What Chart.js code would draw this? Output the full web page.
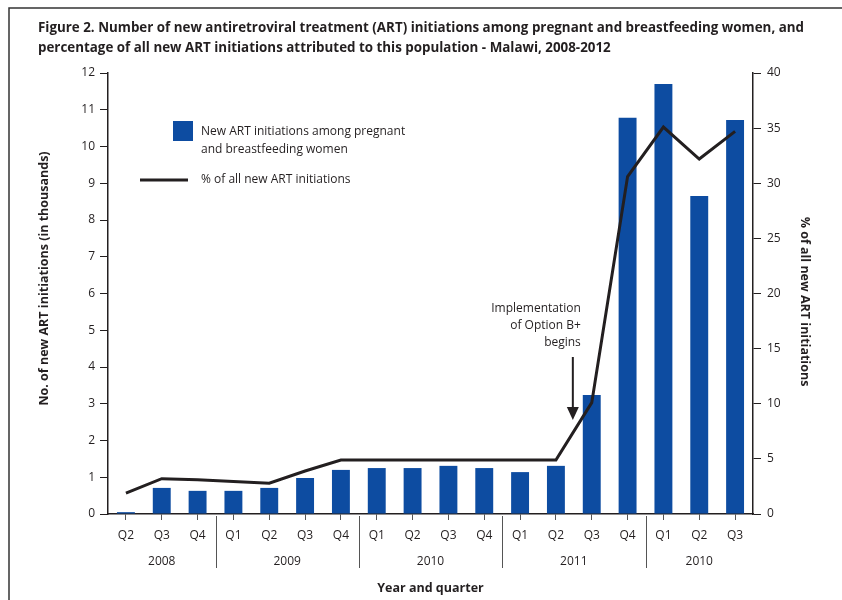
<!DOCTYPE html>
<html>
<head>
<meta charset="utf-8">
<script src="https://cdn.jsdelivr.net/npm/chart.js@4/dist/chart.umd.min.js"></script>
<style>
  html, body { margin: 0; padding: 0; background: #fff; }
  #wrap { width: 842px; height: 600px; }
</style>
</head>
<body>
<div id="wrap"><canvas id="chart" width="842" height="600"></canvas></div>
<script>
'use strict';

// quarters on the x axis, grouped by year underneath
const quarters = ['Q2', 'Q3', 'Q4', 'Q1', 'Q2', 'Q3', 'Q4', 'Q1', 'Q2', 'Q3', 'Q4',
                  'Q1', 'Q2', 'Q3', 'Q4', 'Q1', 'Q2', 'Q3'];
const years = ['2008', '2009', '2010', '2011', '2010'];
const yearSpans = [3, 4, 4, 4, 3];

// new ART initiations among pregnant and breastfeeding women (thousands)
const artCounts = [0.05, 0.71, 0.63, 0.63, 0.71, 0.98, 1.20, 1.25, 1.25, 1.31, 1.25,
                   1.14, 1.31, 3.24, 10.78, 11.70, 8.65, 10.72];
// % of all new ART initiations
const artPct = [1.9, 3.2, 3.1, 2.95, 2.8, 3.9, 4.9, 4.9, 4.9, 4.9, 4.9,
                4.9, 4.9, 10.1, 30.6, 35.1, 32.2, 34.7];

const leftTicks = { min: 0, max: 12, step: 1 };
const rightTicks = { min: 0, max: 40, step: 5 };

const titleLines = [
    'Figure 2. Number of new antiretroviral treatment (ART) initiations among pregnant and breastfeeding women, and',
    'percentage of all new ART initiations attributed to this population - Malawi, 2008-2012'
];

const ink = '#231f20';
const blue = '#0d4ca1';
const bodyFont = '"Open Sans", "Liberation Sans", sans-serif';

// extra drawing: frame, title, legend, annotation, year groups, axis titles
const decorations = {
    id: 'decorations',
    afterDraw(chart) {
        const ctx = chart.ctx;
        const x = chart.scales.x;
        const area = chart.chartArea;
        ctx.save();

        // frame
        ctx.strokeStyle = '#333';
        ctx.lineWidth = 1.5;
        ctx.beginPath();
        ctx.moveTo(9, 600);
        ctx.lineTo(9, 8);
        ctx.lineTo(842, 8);
        ctx.stroke();

        // title, squeezed horizontally to look condensed
        ctx.fillStyle = ink;
        ctx.textBaseline = 'middle';
        ctx.textAlign = 'left';
        ctx.font = 'bold 15px ' + bodyFont;
        const squeeze = 766 / ctx.measureText(titleLines[0]).width;
        ctx.save();
        ctx.translate(38, 0);
        ctx.scale(squeeze, 1);
        ctx.fillText(titleLines[0], 0, 28);
        ctx.fillText(titleLines[1], 0, 48);
        ctx.restore();

        // legend
        ctx.fillStyle = blue;
        ctx.fillRect(173, 121, 20, 20);
        ctx.strokeStyle = ink;
        ctx.lineWidth = 3;
        ctx.beginPath();
        ctx.moveTo(140, 180);
        ctx.lineTo(188, 180);
        ctx.stroke();
        ctx.fillStyle = ink;
        ctx.font = '12px ' + bodyFont;
        ctx.fillText('New ART initiations among pregnant', 201, 132);
        ctx.fillText('and breastfeeding women', 201, 150);
        ctx.fillText('% of all new ART initiations', 201, 180);

        // annotation with arrow, between 2011 Q2 and Q3
        const ax = (x.getPixelForValue(12) + x.getPixelForValue(13)) / 2 - 1;
        ctx.textAlign = 'right';
        ctx.fillText('Implementation', ax + 8, 309);
        ctx.fillText('of Option B+', ax + 8, 326);
        ctx.fillText('begins', ax + 8, 343);
        ctx.lineWidth = 2;
        ctx.beginPath();
        ctx.moveTo(ax, 357);
        ctx.lineTo(ax, 410);
        ctx.stroke();
        ctx.beginPath();
        ctx.moveTo(ax - 6, 407);
        ctx.lineTo(ax + 6, 407);
        ctx.lineTo(ax, 420);
        ctx.closePath();
        ctx.fill();

        // year groups
        const step = x.getPixelForValue(1) - x.getPixelForValue(0);
        ctx.strokeStyle = '#555';
        ctx.lineWidth = 1;
        ctx.textAlign = 'center';
        ctx.font = '12px ' + bodyFont;
        let start = 0;
        years.forEach((yr, i) => {
            const end = start + yearSpans[i];
            const left = x.getPixelForValue(start) - step / 2;
            const right = x.getPixelForValue(end - 1) + step / 2;
            ctx.fillText(yr, (left + right) / 2, 562);
            if (i < years.length - 1) {
                ctx.beginPath();
                ctx.moveTo(Math.round(right) + 0.5, area.bottom + 2);
                ctx.lineTo(Math.round(right) + 0.5, 568);
                ctx.stroke();
            }
            start = end;
        });

        // axis titles
        ctx.font = 'bold 12.5px ' + bodyFont;
        ctx.fillText('Year and quarter', (area.left + area.right) / 2, 588);

        ctx.save();
        ctx.translate(44, (area.top + area.bottom) / 2 - 15);
        ctx.rotate(-Math.PI / 2);
        ctx.fillText('No. of new ART initiations (in thousands)', 0, 0);
        ctx.restore();

        ctx.save();
        ctx.translate(805, (area.top + area.bottom) / 2 + 8);
        ctx.rotate(Math.PI / 2);
        ctx.fillText('% of all new ART initiations', 0, 0);
        ctx.restore();

        ctx.restore();
    }
};

const tickFont = { family: bodyFont, size: 12 };

new Chart(document.getElementById('chart'), {
    data: {
        labels: quarters,
        datasets: [{
            type: 'line',
            label: '% of all new ART initiations',
            data: artPct,
            yAxisID: 'y1',
            borderColor: ink,
            borderWidth: 3,
            pointRadius: 0,
            tension: 0,
            borderJoinStyle: 'miter',
            order: 1
        }, {
            type: 'bar',
            label: 'New ART initiations among pregnant and breastfeeding women',
            data: artCounts,
            yAxisID: 'y',
            backgroundColor: blue,
            categoryPercentage: 1,
            barPercentage: 0.5,
            order: 2
        }]
    },
    options: {
        responsive: false,
        animation: false,
        layout: { padding: { top: 73, left: 0, right: 0, bottom: 0 } },
        plugins: { legend: { display: false }, tooltip: { enabled: false } },
        scales: {
            x: {
                type: 'category',
                offset: true,
                grid: { drawOnChartArea: false, offset: false, tickLength: 6, color: '#555' },
                border: { display: true, color: ink, width: 1.5 },
                ticks: { font: tickFont, color: ink, padding: 8, maxRotation: 0, autoSkip: false },
                afterFit: s => { s.height = 86; }
            },
            y: {
                position: 'left',
                min: leftTicks.min,
                max: leftTicks.max,
                ticks: { stepSize: leftTicks.step, font: tickFont, color: ink, padding: 5 },
                grid: { drawOnChartArea: false, tickLength: 8, color: ink },
                border: { display: true, color: ink, width: 1.5 },
                afterFit: s => { s.width = 108; }
            },
            y1: {
                position: 'right',
                min: rightTicks.min,
                max: rightTicks.max,
                ticks: { stepSize: rightTicks.step, font: tickFont, color: ink, padding: 6 },
                grid: { drawOnChartArea: false, tickLength: 8, color: ink },
                border: { display: true, color: ink, width: 1.5 },
                afterFit: s => { s.width = 89; }
            }
        }
    },
    plugins: [decorations]
});
</script>
</body>
</html>
